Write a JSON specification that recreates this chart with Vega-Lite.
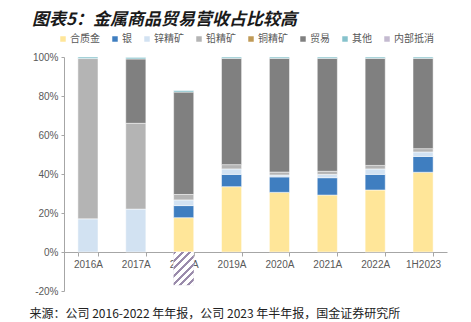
{
  "$schema": "https://vega.github.io/schema/vega-lite/v6.json",
  "width": 383,
  "height": 234,
  "autosize": {"type": "none"},
  "padding": {"left": 64, "top": 57, "right": 24, "bottom": 31},
  "background": "white",
  "title": {
    "text": "图表5：金属商品贸易营收占比较高",
    "anchor": "start",
    "frame": "group",
    "font": "Noto Sans CJK SC",
    "fontSize": 17,
    "fontWeight": "bold",
    "fontStyle": "italic",
    "color": "#1a1a1a",
    "dx": -32,
    "offset": 5
  },
  "data": {
    "values": [
      {"year": "2016A", "type": "锌精矿", "value": 17},
      {"year": "2016A", "type": "铅精矿", "value": 82.2},
      {"year": "2016A", "type": "其他", "value": 0.8},
      {"year": "2017A", "type": "锌精矿", "value": 22},
      {"year": "2017A", "type": "铅精矿", "value": 44},
      {"year": "2017A", "type": "贸易", "value": 33},
      {"year": "2017A", "type": "其他", "value": 0.8},
      {"year": "2018A", "type": "合质金", "value": 17.6},
      {"year": "2018A", "type": "银", "value": 6.2},
      {"year": "2018A", "type": "锌精矿", "value": 2.9},
      {"year": "2018A", "type": "铅精矿", "value": 2.8},
      {"year": "2018A", "type": "铜精矿", "value": 0},
      {"year": "2018A", "type": "贸易", "value": 52.5},
      {"year": "2018A", "type": "其他", "value": 0.8},
      {"year": "2018A", "type": "内部抵消", "value": -17},
      {"year": "2019A", "type": "合质金", "value": 33.5},
      {"year": "2019A", "type": "银", "value": 6.3},
      {"year": "2019A", "type": "锌精矿", "value": 2.8},
      {"year": "2019A", "type": "铅精矿", "value": 2.2},
      {"year": "2019A", "type": "贸易", "value": 54.5},
      {"year": "2019A", "type": "其他", "value": 0.7},
      {"year": "2020A", "type": "合质金", "value": 30.6},
      {"year": "2020A", "type": "银", "value": 7.9},
      {"year": "2020A", "type": "锌精矿", "value": 1.0},
      {"year": "2020A", "type": "铅精矿", "value": 1.5},
      {"year": "2020A", "type": "贸易", "value": 58.3},
      {"year": "2020A", "type": "其他", "value": 0.7},
      {"year": "2021A", "type": "合质金", "value": 29.2},
      {"year": "2021A", "type": "银", "value": 8.9},
      {"year": "2021A", "type": "锌精矿", "value": 1.7},
      {"year": "2021A", "type": "铅精矿", "value": 1.6},
      {"year": "2021A", "type": "贸易", "value": 57.9},
      {"year": "2021A", "type": "其他", "value": 0.7},
      {"year": "2022A", "type": "合质金", "value": 31.8},
      {"year": "2022A", "type": "银", "value": 8.0},
      {"year": "2022A", "type": "锌精矿", "value": 2.8},
      {"year": "2022A", "type": "铅精矿", "value": 1.8},
      {"year": "2022A", "type": "贸易", "value": 54.9},
      {"year": "2022A", "type": "其他", "value": 0.7},
      {"year": "1H2023", "type": "合质金", "value": 40.9},
      {"year": "1H2023", "type": "银", "value": 8.1},
      {"year": "1H2023", "type": "锌精矿", "value": 2.3},
      {"year": "1H2023", "type": "铅精矿", "value": 1.7},
      {"year": "1H2023", "type": "贸易", "value": 46.3},
      {"year": "1H2023", "type": "其他", "value": 0.7}
    ]
  },
  "encoding": {
    "x": {
      "field": "year",
      "type": "nominal",
      "sort": ["2016A", "2017A", "2018A", "2019A", "2020A", "2021A", "2022A", "1H2023"],
      "scale": {"paddingInner": 0.58, "paddingOuter": 0.29},
      "axis": {
        "offset": -39,
        "labelAngle": 0,
        "labelFontSize": 10,
        "labelColor": "#595959",
        "labelFont": "Liberation Sans",
        "labelPadding": 3,
        "tickBand": "extent",
        "tickSize": 4,
        "tickColor": "#A6A6A6",
        "domainColor": "#A6A6A6",
        "title": "来源：公司 2016-2022 年年报，公司 2023 年半年报，国金证券研究所",
        "titleFont": "Noto Sans CJK SC",
        "titleFontSize": 12,
        "titleFontWeight": "normal",
        "titleColor": "#222222",
        "titleAnchor": "start",
        "titleAlign": "left",
        "titleBaseline": "middle",
        "titleX": -35,
        "titleY": 61
      }
    },
    "y": {
      "field": "value",
      "type": "quantitative",
      "stack": "zero",
      "scale": {"domain": [-20, 100], "nice": false, "zero": true},
      "axis": {
        "values": [-20, 0, 20, 40, 60, 80, 100],
        "labelExpr": "datum.value + '%'",
        "labelOverlap": false,
        "grid": false,
        "title": null,
        "labelFontSize": 10,
        "labelColor": "#595959",
        "labelFont": "Liberation Sans",
        "tickSize": 3,
        "tickColor": "#A6A6A6",
        "domainColor": "#A6A6A6",
        "labelPadding": 3
      }
    }
  },
  "layer": [
    {
      "mark": {"type": "bar", "stroke": "white", "strokeWidth": 0.5},
      "encoding": {
        "color": {
          "field": "type",
          "type": "nominal",
          "scale": {
            "domain": ["合质金", "银", "锌精矿", "铅精矿", "铜精矿", "贸易", "其他", "内部抵消"],
            "range": ["#FFE699", "#3F7EC0", "#D2E2F2", "#B4B4B4", "#C09A56", "#808080", "#86C2CC", "#C4BAD0"]
          },
          "legend": {
            "orient": "none",
            "legendX": -6,
            "legendY": -23,
            "direction": "horizontal",
            "columns": 8,
            "title": null,
            "symbolType": "square",
            "symbolSize": 30,
            "symbolStrokeWidth": 0,
            "labelFontSize": 10,
            "labelColor": "#595959",
            "labelFont": "Noto Sans CJK SC",
            "labelOffset": 2,
            "columnPadding": 10
          }
        },
        "order": {"field": "ord", "type": "quantitative"}
      },
      "transform": [
        {"calculate": "indexof(['合质金','银','锌精矿','铅精矿','铜精矿','贸易','其他','内部抵消'], datum.type)", "as": "ord"}
      ]
    },
    {
      "transform": [{"filter": "datum.type === '内部抵消'"}],
      "mark": {
        "type": "bar",
        "fill": {
          "gradient": "linear",
          "x1": 0, "y1": 0, "x2": 0.712, "y2": 1.176,
          "stops": [
            {"offset": 0.0, "color": "#9A8BAB"}, {"offset": 0.057, "color": "#9A8BAB"},
            {"offset": 0.057, "color": "#ffffff"}, {"offset": 0.143, "color": "#ffffff"},
            {"offset": 0.143, "color": "#9A8BAB"}, {"offset": 0.2, "color": "#9A8BAB"},
            {"offset": 0.2, "color": "#ffffff"}, {"offset": 0.286, "color": "#ffffff"},
            {"offset": 0.286, "color": "#9A8BAB"}, {"offset": 0.343, "color": "#9A8BAB"},
            {"offset": 0.343, "color": "#ffffff"}, {"offset": 0.429, "color": "#ffffff"},
            {"offset": 0.429, "color": "#9A8BAB"}, {"offset": 0.486, "color": "#9A8BAB"},
            {"offset": 0.486, "color": "#ffffff"}, {"offset": 0.571, "color": "#ffffff"},
            {"offset": 0.571, "color": "#9A8BAB"}, {"offset": 0.629, "color": "#9A8BAB"},
            {"offset": 0.629, "color": "#ffffff"}, {"offset": 0.714, "color": "#ffffff"},
            {"offset": 0.714, "color": "#9A8BAB"}, {"offset": 0.771, "color": "#9A8BAB"},
            {"offset": 0.771, "color": "#ffffff"}, {"offset": 0.857, "color": "#ffffff"},
            {"offset": 0.857, "color": "#9A8BAB"}, {"offset": 0.914, "color": "#9A8BAB"},
            {"offset": 0.914, "color": "#ffffff"}, {"offset": 1.0, "color": "#ffffff"}
          ]
        }
      }
    }
  ],
  "config": {
    "view": {"stroke": null},
    "font": "Noto Sans CJK SC"
  }
}
